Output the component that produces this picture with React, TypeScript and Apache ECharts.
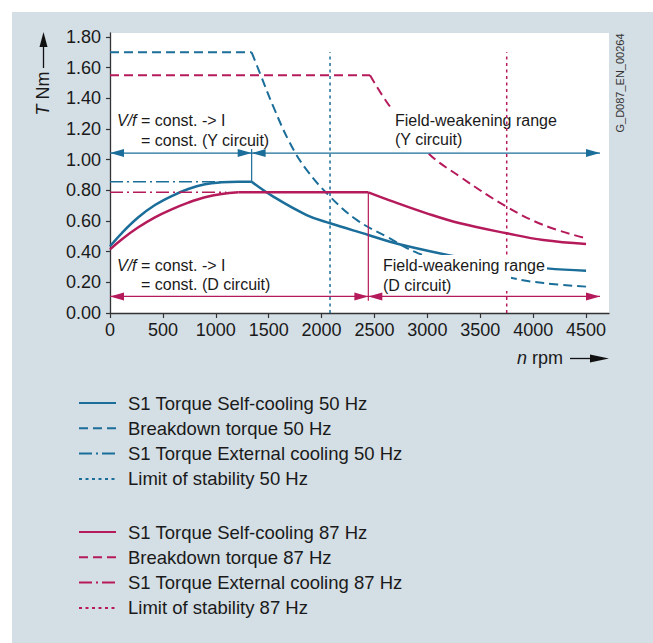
import React, { useEffect, useRef } from "react";
import * as echarts from "echarts";

const BLUE = "#1b6e99";
const RED = "#b51a5b";
const TXT = "#1a1a1a";
const BG = "#d4dee5";
const FONT = "'Liberation Sans', Arial, Helvetica, sans-serif";

const rpmTicks = [0, 500, 1000, 1500, 2000, 2500, 3000, 3500, 4000, 4500];
const torqueTicks = [0, 0.2, 0.4, 0.6, 0.8, 1.0, 1.2, 1.4, 1.6, 1.8];
const X_MAX = 4717;
const Y_MAX = 1.826;

const names50 = [
  "S1 Torque Self-cooling 50 Hz",
  "Breakdown torque 50 Hz",
  "S1 Torque External cooling 50 Hz",
  "Limit of stability 50 Hz",
];
const names87 = [
  "S1 Torque Self-cooling 87 Hz",
  "Breakdown torque 87 Hz",
  "S1 Torque External cooling 87 Hz",
  "Limit of stability 87 Hz",
];

// 50 Hz (Y circuit)
const selfCool50Rise = [
  [0, 0.435], [110, 0.52], [268, 0.624], [425, 0.704], [583, 0.763],
  [740, 0.809], [898, 0.839], [1056, 0.852], [1213, 0.856], [1339, 0.856],
];
const selfCool50Fall = [
  [1339, 0.856], [1544, 0.759], [1859, 0.639], [2080, 0.585], [2442, 0.509],
  [2647, 0.465], [2836, 0.432], [3277, 0.367], [3700, 0.322], [4128, 0.291], [4500, 0.276],
];
const breakdown50Flat = [[0, 1.7], [1339, 1.7]];
const breakdown50Fall = [
  [1339, 1.7], [1418, 1.563], [1544, 1.346], [1702, 1.107], [1859, 0.933],
  [2080, 0.759], [2332, 0.607], [2616, 0.498], [2915, 0.389], [3350, 0.3],
  [3813, 0.226], [4100, 0.195], [4500, 0.172],
];
const extCool50 = [[0, 0.856], [1100, 0.856]];
const stability50 = [[2080, 0], [2080, 1.7]];

// 87 Hz (D circuit)
const selfCool87Rise = [
  [0, 0.415], [110, 0.48], [268, 0.559], [425, 0.624], [583, 0.676],
  [740, 0.72], [898, 0.755], [1056, 0.776], [1213, 0.787],
];
const selfCool87Flat = [[1213, 0.787], [2442, 0.787]];
const selfCool87Fall = [
  [2442, 0.787], [2678, 0.726], [2994, 0.65], [3309, 0.585], [3750, 0.52],
  [4096, 0.476], [4500, 0.45],
];
const breakdown87Flat = [[0, 1.55], [2458, 1.55]];
const breakdown87Fall = [
  [2458, 1.55], [2647, 1.346], [2994, 1.052], [3309, 0.889], [3750, 0.693],
  [4096, 0.574], [4500, 0.487],
];
const extCool87 = [[0, 0.787], [1100, 0.787]];
const stability87 = [[3750, 0], [3750, 1.7]];

// range arrows: torque level and arrow-tip rpm values
const arrowY = { level: 1.043, tips: [0, 1339, 4632] };
const arrowD = { level: 0.108, tips: [0, 2442, 4632] };
// vertical boundary lines: rpm, from torque, to torque
const boundaryY = [[1339, 0.856], [1339, 1.07]];
const boundaryD = [[2442, 0.787], [2442, 0.08]];
const ARROW_INSET = 66; // rpm equivalent of half an arrowhead

type Seg = { data: number[][]; smooth?: number };

function lineSeries(name: string | undefined, segs: Seg[], color: string, width: number, type: any, z = 2) {
  return segs.map((s) => ({
    type: "line",
    name,
    data: s.data,
    smooth: s.smooth ?? false,
    symbol: "none",
    showSymbol: false,
    silent: true,
    z,
    lineStyle: { color, width, type, cap: "butt" },
    itemStyle: { color },
    emphasis: { disabled: true },
  }));
}

function arrowSeries(a: { level: number; tips: number[] }, color: string) {
  const n = a.tips.length;
  const left = a.tips.slice(0, n - 1).map((t) => [t + ARROW_INSET, a.level]);
  const right = a.tips.slice(1).map((t) => [t - ARROW_INSET, a.level]);
  const head = (data: number[][], rot: number) => ({
    type: "scatter",
    data,
    symbol: "triangle",
    symbolSize: [8, 14],
    symbolRotate: rot,
    silent: true,
    z: 2,
    itemStyle: { color, opacity: 1 },
    emphasis: { disabled: true },
  });
  return [
    ...lineSeries(undefined, [{ data: [[a.tips[0], a.level], [a.tips[n - 1], a.level]] }], color, 1.2, "solid"),
    head(left, 90),
    head(right, -90),
  ];
}

const DASH = [9, 5];
const DASHDOT = [13, 4, 2, 4];
const DOT = [3, 3.5];

function legendCfg(names: string[], top: number) {
  return {
    data: names,
    orient: "vertical",
    left: 78,
    top,
    padding: 0,
    itemWidth: 37,
    itemHeight: 14,
    itemGap: 5.3,
    selectedMode: false,
    itemStyle: { opacity: 0 },
    textStyle: { fontSize: 18.5, color: TXT, fontFamily: FONT, lineHeight: 20, padding: [0, 0, 0, 7] },
  };
}

const rich = {
  i: { fontStyle: "italic", fontSize: 16, fontFamily: FONT, fill: TXT },
};
const richBig = {
  i: { fontStyle: "italic", fontSize: 18, fontFamily: FONT, fill: TXT },
};

function txt(text: string, x: number, y: number, z: number) {
  return {
    type: "text",
    x,
    y,
    z,
    style: {
      text,
      rich,
      fontSize: 16,
      fontFamily: FONT,
      fill: TXT,
      align: "left",
      verticalAlign: "middle",
    },
  };
}

export default function App() {
  const ref = useRef<HTMLDivElement>(null);
  useEffect(() => {
    document.body.style.margin = "0";
    const chart = echarts.init(ref.current!, null, { renderer: "svg" });
    const option: any = {
      animation: false,
      backgroundColor: BG,
      textStyle: { fontFamily: FONT },
      grid: {
        left: 110,
        top: 33,
        width: 499,
        height: 280,
        show: true,
        backgroundColor: "#ffffff",
        borderWidth: 0,
      },
      xAxis: {
        type: "value",
        min: 0,
        max: X_MAX,
        interval: 500,
        splitLine: { show: false },
        axisLine: { lineStyle: { color: "#333", width: 1.3 } },
        axisTick: { length: 5, lineStyle: { color: "#333", width: 1.2 }, customValues: rpmTicks },
        axisLabel: {
          customValues: rpmTicks,
          fontSize: 18,
          color: TXT,
          fontFamily: FONT,
          margin: 8,
          formatter: (v: number) => (rpmTicks.includes(v) ? String(v) : ""),
        },
      },
      yAxis: {
        type: "value",
        min: 0,
        max: Y_MAX,
        interval: 0.2,
        splitLine: { show: false },
        axisLine: { lineStyle: { color: "#333", width: 1.3 } },
        axisTick: { length: 4, lineStyle: { color: "#333", width: 1.2 }, customValues: torqueTicks },
        axisLabel: {
          customValues: torqueTicks,
          fontSize: 18,
          color: TXT,
          fontFamily: FONT,
          margin: 9,
          formatter: (v: number) => (v <= 1.8001 ? v.toFixed(2) : ""),
        },
      },
      legend: [legendCfg(names50, 393), legendCfg(names87, 522)],
      series: [
        ...lineSeries(names50[0], [{ data: selfCool50Rise, smooth: 0.4 }, { data: selfCool50Fall, smooth: 0.4 }], BLUE, 2.5, "solid"),
        ...lineSeries(names50[1], [{ data: breakdown50Flat }, { data: breakdown50Fall, smooth: 0.4 }], BLUE, 2, DASH),
        ...lineSeries(names50[2], [{ data: extCool50 }], BLUE, 1.5, DASHDOT),
        ...lineSeries(names50[3], [{ data: stability50 }], BLUE, 1.5, DOT, 4),
        ...lineSeries(names87[0], [{ data: selfCool87Rise, smooth: 0.4 }, { data: selfCool87Flat }, { data: selfCool87Fall, smooth: 0.4 }], RED, 2.5, "solid"),
        ...lineSeries(names87[1], [{ data: breakdown87Flat }, { data: breakdown87Fall, smooth: 0.4 }], RED, 2, DASH),
        ...lineSeries(names87[2], [{ data: extCool87 }], RED, 1.5, DASHDOT),
        ...lineSeries(names87[3], [{ data: stability87 }], RED, 1.5, DOT, 4),
        ...arrowSeries(arrowY, BLUE),
        ...arrowSeries(arrowD, RED),
        ...lineSeries(undefined, [{ data: boundaryY }], BLUE, 1.2, "solid"),
        ...lineSeries(undefined, [{ data: boundaryD }], RED, 1.2, "solid"),
      ],
      graphic: [
        { type: "rect", z: 0, shape: { x: 0, y: 0, width: 653, height: 12 }, style: { fill: "#ffffff" } },
        { type: "rect", z: 0, shape: { x: 0, y: 0, width: 12, height: 643 }, style: { fill: "#ffffff" } },
        // masks behind annotation texts
        { type: "rect", z: 3, shape: { x: 388, y: 108, width: 172, height: 43 }, style: { fill: "#ffffff" } },
        { type: "rect", z: 5, shape: { x: 380, y: 255, width: 167, height: 20 }, style: { fill: "#ffffff" } },
        { type: "rect", z: 5, shape: { x: 380, y: 275, width: 131, height: 16 }, style: { fill: "#ffffff" } },
        // annotations
        txt("{i|V/f} = const. -> I", 117, 120, 6),
        txt("= const. (Y circuit)", 141, 140, 6),
        txt("{i|V/f} = const. -> I", 117, 265, 6),
        txt("= const. (D circuit)", 141, 284.5, 6),
        txt("Field-weakening range", 395, 120, 3.5),
        txt("(Y circuit)", 395, 139.5, 3.5),
        txt("Field-weakening range", 383, 265.5, 6),
        txt("(D circuit)", 383, 285, 6),
        // y axis name with arrow
        {
          type: "text",
          x: 43,
          y: 93.5,
          rotation: Math.PI / 2,
          z: 6,
          style: {
            text: "{i|T} Nm",
            rich: richBig,
            fontSize: 18,
            fontFamily: FONT,
            fill: TXT,
            align: "center",
            verticalAlign: "middle",
          },
        },
        { type: "line", z: 6, shape: { x1: 43.5, y1: 68, x2: 43.5, y2: 46 }, style: { stroke: "#111", lineWidth: 1.3 } },
        { type: "polygon", z: 6, shape: { points: [[43.5, 32], [39.5, 47], [47.5, 47]] }, style: { fill: "#111" } },
        // x axis name with arrow
        {
          type: "text",
          x: 563,
          y: 358,
          z: 6,
          style: {
            text: "{i|n} rpm",
            rich: richBig,
            fontSize: 18,
            fontFamily: FONT,
            fill: TXT,
            align: "right",
            verticalAlign: "middle",
          },
        },
        { type: "line", z: 6, shape: { x1: 570, y1: 358.5, x2: 592, y2: 358.5 }, style: { stroke: "#111", lineWidth: 1.3 } },
        { type: "polygon", z: 6, shape: { points: [[609, 358.5], [590, 354.5], [590, 362.5]] }, style: { fill: "#111" } },
        // document id
        {
          type: "text",
          x: 620,
          y: 83,
          rotation: Math.PI / 2,
          z: 6,
          style: {
            text: "G_D087_EN_00264",
            fontSize: 11,
            fontFamily: FONT,
            fill: "#333",
            align: "center",
            verticalAlign: "middle",
          },
        },
      ],
    };
    chart.setOption(option);
    return () => chart.dispose();
  }, []);
  return <div ref={ref} style={{ position: "fixed", left: 0, top: 0, width: 653, height: 643 }} />;
}
